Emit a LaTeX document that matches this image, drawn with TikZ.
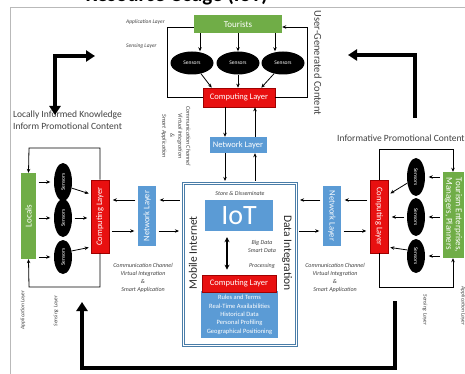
\documentclass[tikz,border=0pt]{standalone}
\usepackage{fontspec}
\setmainfont{Carlito}
\setsansfont{Carlito}
\usetikzlibrary{shapes.geometric,arrows.meta,calc}
\definecolor{grn}{HTML}{70AD47}
\definecolor{rd}{HTML}{E81010}
\definecolor{rdd}{HTML}{A00000}
\definecolor{blu}{HTML}{5B9BD5}
\definecolor{frm}{HTML}{4A7DA8}
\definecolor{txt}{HTML}{404040}
\begin{document}
\begin{tikzpicture}[x=1pt,y=-1pt,
 box/.style={inner sep=0pt, text=white, font=\fontsize{8.5}{9}\selectfont},
 gbox/.style={box, fill=grn},
 rbox/.style={box, fill=rd, draw=rdd, line width=0.6pt},
 bbox/.style={box, fill=blu},
 sens/.style={ellipse, fill=black, inner sep=0pt, text=white, font=\fontsize{5.5}{6}\selectfont},
 arr/.style={-{Stealth[length=4pt,width=3.5pt]}, line width=0.8pt},
 harr/.style={arr, shorten >=3.5pt, shorten <=2.5pt},
 ln/.style={line width=0.9pt},
 big/.style={line width=3.5pt},
 lbl/.style={inner sep=0pt, font=\itshape\fontsize{5.5}{7.5}\selectfont, text=txt, align=center},
 clbl/.style={lbl, font=\itshape\fontsize{6}{8}\selectfont},
]
\useasboundingbox (0,0) rectangle (465,374);
\begin{scope}
\clip (0,0) rectangle (465,374);
\node[font=\bfseries\fontsize{21}{21}\selectfont, anchor=base east, inner sep=0pt, text=black] (title) at (268,1.5) {Resource Usage (IoT)};
\end{scope}
\draw[gray!55, line width=1pt] (10,374) -- (10,8) -- (465,8);

% ---------- top ----------
\node[gbox, minimum width=88pt, minimum height=18pt, font=\fontsize{9}{10}\selectfont] (tour) at (238,24) {Tourists};
\node[sens, minimum width=43pt, minimum height=23pt] (s1) at (192,63) {Sensors};
\node[sens, minimum width=43pt, minimum height=23pt] (s2) at (238,63) {Sensors};
\node[sens, minimum width=43pt, minimum height=23pt] (s3) at (283,63) {Sensors};
\node[rbox, minimum width=72pt, minimum height=19pt] (comp) at (239,97.5) {Computing Layer};
\node[bbox, minimum width=57pt, minimum height=16pt] (net) at (238,145) {Network Layer};
\node[lbl, anchor=west] (al) at (126,22) {Application Layer};
\node[lbl, anchor=west] (sl) at (126,46) {Sensing Layer};

\draw[arr] ($(tour.south)+(-38,0)$) -- ($(s1.north)+(8,0)$);
\draw[arr] (tour.south) -- (s2.north);
\draw[arr] ($(tour.south)+(37,0)$) -- ($(s3.north)+(-8,0)$);
\draw[arr] (s1.-50) -- ($(comp.north west)+(9,0)$);
\draw[arr] (s2.south) -- (s2.south |- comp.north);
\draw[arr] (s3.-130) -- ($(comp.north east)+(-14,0)$);

\coordinate (tlL) at (167,27);
\coordinate (tlR) at (307,27);
\draw[ln] (comp.west) -| (tlL) -- (tour.west |- tlL);
\draw[arr] (comp.east) -| (tlR) -- (tour.east |- tlR);

\node[rotate=-90, font=\fontsize{10.5}{11}\selectfont, text=txt, inner sep=0pt] (ugc) at (318,63) {User-Generated Content};
\node[clbl, rotate=-90] (ct) at (176,136) {Communication Channel\\Virtual Integration\\\&\\Smart Application};

\draw[arr] ($(comp.south)+(-14,0)$) -- ($(net.north)+(-13,0)$);
\draw[arr] ($(net.north)+(17,0)$) -- ($(comp.south)+(16,0)$);

% ---------- centre ----------
\node[draw=frm, double=white, double distance=0.8pt, line width=1.1pt, minimum width=113pt, minimum height=162pt, inner sep=0pt] (frame) at (239.5,264) {};
\draw[arr] ($(net.south)+(-13,0)$) -- ($(frame.north)+(-14.5,-1.5)$);
\draw[arr] ($(frame.north)+(15.5,-1.5)$) -- ($(net.south)+(17,0)$);

\node[clbl] (sd) at (240,193) {Store \& Disseminate};
\node[bbox, minimum width=68pt, minimum height=31pt, font=\fontsize{28}{28}\selectfont] (iot) at (239,215.5) {IoT};
\node[bbox, minimum width=77pt, minimum height=47pt, font=\fontsize{6.5}{8.3}\selectfont, align=center, anchor=north] (rules) at (239.5,291) {Rules and Terms\\Real-Time Availabilities\\Historical Data\\Personal Profiling\\Geographical Positioning};
\node[rbox, minimum width=74pt, minimum height=17pt] (comp2) at (239,283.5) {Computing Layer};
\draw[line width=2pt, {Stealth[length=5pt,width=5pt]}-{Stealth[length=5pt,width=5pt]}] ($(iot.south)+(-12,6)$) -- ($(comp2.north)+(-12,-5)$);
\node[clbl] (bd) at (262,246) {Big Data\\Smart Data};
\node[clbl] (pr) at (262,266) {Processing};
\node[rotate=90, font=\fontsize{11.5}{12}\selectfont, text=black!85, inner sep=0pt] (mi) at (193,253) {Mobile Internet};
\node[rotate=-90, font=\fontsize{11.5}{12}\selectfont, text=black!85, inner sep=0pt] (di) at (287,253) {Data Integration};

\coordinate (ya) at (0,200);
\coordinate (yb) at (0,231);

% ---------- left ----------
\node[font=\fontsize{9.5}{12}\selectfont, text=txt, align=left, anchor=base west, inner sep=0pt] (lik) at (13,130) {Locally Informed Knowledge\\Inform Promotional Content};
\node[gbox, minimum width=15pt, minimum height=86pt, font=\fontsize{9}{10}\selectfont] (loc) at (28.5,216) {\rotatebox{90}{Locals}};
\node[sens, minimum width=18pt, minimum height=38pt] (ls1) at (63,182) {\rotatebox{90}{Sensors}};
\node[sens, minimum width=18pt, minimum height=38pt] (ls2) at (63,218) {\rotatebox{90}{Sensors}};
\node[sens, minimum width=18pt, minimum height=34pt] (ls3) at (63,257) {\rotatebox{90}{Sensors}};
\node[rbox, minimum width=18pt, minimum height=73pt] (lcomp) at (100,216.5) {\rotatebox{90}{Computing Layer}};
\node[bbox, minimum width=18pt, minimum height=60pt] (lnet) at (147,216) {\rotatebox{90}{Network Layer}};

\coordinate (lt) at (29,148);
\coordinate (lb) at (29,287);
\draw[arr] (lcomp.north) |- (lt) -- (loc.north);
\draw[arr] (lcomp.south) |- (lb) -- (loc.south);
\draw[harr] (loc.east |- ls1) -- (ls1.west);
\draw[harr] (loc.east |- ls2) -- (ls2.west);
\draw[harr] (loc.east |- ls3) -- (ls3.west);
\draw[arr] (ls1.-35) -- ($(lcomp.west)+(-2,-23)$);
\draw[harr] (ls2.east) -- (lcomp.west |- ls2);
\draw[arr] (ls3.35) -- ($(lcomp.west)+(-2,31)$);
\draw[harr] (frame.west |- ya) -- (lnet.east |- ya);
\draw[harr] (lnet.west |- ya) -- (lcomp.east |- ya);
\draw[harr] (lcomp.east |- yb) -- (lnet.west |- yb);
\draw[harr] (lnet.east |- yb) -- (frame.west |- yb);
\node[clbl] (lct) at (143,278) {Communication Channel\\Virtual Integration\\\&\\Smart Application};
\node[lbl, rotate=90] (lal) at (23,310) {Application Layer};
\node[lbl, rotate=90] (lsl) at (56,311) {Sensing Layer};

% ---------- right ----------
\node[font=\fontsize{9.5}{12}\selectfont, text=txt, anchor=base west, inner sep=0pt] (ipc) at (337,142) {Informative Promotional Content};
\node[gbox, minimum width=21pt, minimum height=86pt, font=\fontsize{9}{9.5}\selectfont] (ten) at (453,215) {\rotatebox{-90}{\begin{tabular}{@{}l@{}}Tourism Enterprises,\\Managers, Planners\end{tabular}}};
\node[sens, minimum width=18pt, minimum height=38pt] (rs1) at (416,177) {\rotatebox{-90}{Sensors}};
\node[sens, minimum width=18pt, minimum height=38pt] (rs2) at (416,217) {\rotatebox{-90}{Sensors}};
\node[sens, minimum width=18pt, minimum height=34pt] (rs3) at (416,256) {\rotatebox{-90}{Sensors}};
\node[rbox, minimum width=18pt, minimum height=73pt] (rcomp) at (379,216.5) {\rotatebox{-90}{Computing Layer}};
\node[bbox, minimum width=18pt, minimum height=60pt] (rnet) at (332,216) {\rotatebox{-90}{Network Layer}};

\coordinate (rt) at (453,149);
\coordinate (rb) at (453,287);
\draw[arr] (rcomp.north) |- (rt) -- (ten.north);
\draw[arr] (rcomp.south) |- (rb) -- (ten.south);
\draw[harr] (ten.west |- rs1) -- (rs1.east);
\draw[harr] (ten.west |- rs2) -- (rs2.east);
\draw[harr] (ten.west |- rs3) -- (rs3.east);
\draw[arr] (rs1.-145) -- ($(rcomp.east)+(2,-23)$);
\draw[harr] (rs2.west) -- (rcomp.east |- rs2);
\draw[arr] (rs3.145) -- ($(rcomp.east)+(2,31)$);
\draw[harr] (rnet.west |- ya) -- (frame.east |- ya);
\draw[harr] (rcomp.west |- ya) -- (rnet.east |- ya);
\draw[harr] (frame.east |- yb) -- (rnet.west |- yb);
\draw[harr] (rnet.east |- yb) -- (rcomp.west |- yb);
\node[clbl] (rct) at (335,278) {Communication Channel\\Virtual Integration\\\&\\Smart Application};
\node[lbl, rotate=-90] (rsl) at (425,310) {Sensing Layer};
\node[lbl, rotate=-90] (ral) at (463,306) {Application Layer};

% ---------- big arrows ----------
\coordinate (b1) at (95,56);
\coordinate (b0) at (55,56);
\coordinate (b2) at (55,115);
\draw[big, {Triangle[length=9pt,width=11pt]}-{Triangle[length=9pt,width=11pt]}] (b1) -- (b0) -- (b2);
\coordinate (c0) at (415,118);
\coordinate (c1) at (415,55);
\coordinate (c2) at (348,55);
\draw[big, -{Triangle[length=9pt,width=11pt]}] (c0) -- (c1) -- (c2);
\coordinate (d0) at (395,301);
\coordinate (d1) at (395,368);
\coordinate (d2) at (82,368);
\coordinate (d3) at (82,302);
\draw[big, -{Triangle[length=9pt,width=11pt]}] (d0) -- (d1) -- (d2) -- (d3);
\end{tikzpicture}
\end{document}
